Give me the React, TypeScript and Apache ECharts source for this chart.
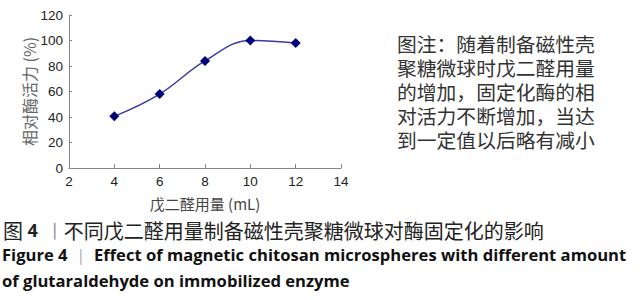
import React, { useEffect, useRef } from "react";
import * as echarts from "echarts";

const xValues = [4, 6, 8, 10, 12];
const activity = [40.5, 58, 84, 100, 98];
const xAxisName = "戊二醛用量 (mL)";
const yAxisName = "相对酶活力 (%)";
const noteLines = [
  "图注：随着制备磁性壳",
  "聚糖微球时戊二醛用量",
  "的增加，固定化酶的相",
  "对活力不断增加，当达",
  "到一定值以后略有减小",
];
const captionCn = "不同戊二醛用量制备磁性壳聚糖微球对酶固定化的影响";
const captionEn1 = "Effect of magnetic chitosan microspheres with different amount";
const captionEn2 = "of glutaraldehyde on immobilized enzyme";

const CJK = '"Noto Sans CJK SC", "Noto Sans", sans-serif';
const EN = '"Open Sans", Lato, sans-serif';

export default function App() {
  const ref = useRef<HTMLDivElement>(null);
  useEffect(() => {
    if (!ref.current) return;
    const chart = echarts.init(ref.current, null, { renderer: "svg" });
    const graphics: any[] = [];
    graphics.push({
      type: "text",
      left: 397,
      top: 31,
      style: {
        text: noteLines.join("\n"),
        font: `19.8px ${CJK}`,
        lineHeight: 24.2,
        fill: "#333",
      },
    });
    graphics.push({
      type: "text",
      left: 3,
      top: 220,
      style: {
        text: `{a|图 }{b|4}{s|  丨}{a|${captionCn}}`,
        rich: {
          a: { font: `20px ${CJK}`, fill: "#222" },
          b: { font: `bold 18px ${EN}`, fill: "#222" },
          s: { font: `18px ${CJK}`, fill: "#999" },
        },
      },
    });
    graphics.push({
      type: "text",
      left: 2,
      top: 246,
      style: {
        text: `{b|Figure 4 }{s| | }{b| ${captionEn1}}`,
        rich: {
          b: { font: `bold 16.6px ${EN}`, fill: "#111" },
          s: { font: `16.6px ${EN}`, fill: "#aaa" },
        },
      },
    });
    graphics.push({
      type: "text",
      left: 2,
      top: 272,
      style: { text: captionEn2, font: `bold 16.6px ${EN}`, fill: "#111" },
    });

    chart.setOption({
      animation: false,
      grid: { left: 69, top: 15, width: 272, height: 153 },
      xAxis: {
        type: "value",
        min: 2,
        max: 14,
        interval: 2,
        name: xAxisName,
        nameLocation: "middle",
        nameGap: 28,
        nameTextStyle: { fontSize: 15, color: "#444", fontFamily: CJK },
        axisLine: { lineStyle: { color: "#868686" } },
        axisTick: { inside: true, length: 4, lineStyle: { color: "#868686" } },
        axisLabel: { fontSize: 13.5, color: "#222", fontFamily: "Liberation Sans", margin: 6 },
        splitLine: { show: false },
      },
      yAxis: {
        type: "value",
        min: 0,
        max: 120,
        interval: 20,
        name: yAxisName,
        nameLocation: "middle",
        nameRotate: 90,
        nameGap: 32,
        nameTextStyle: { fontSize: 16, color: "#666", fontFamily: CJK },
        axisLine: { show: true, lineStyle: { color: "#868686" } },
        axisTick: { show: true, inside: true, length: 3, lineStyle: { color: "#868686" } },
        axisLabel: { fontSize: 13.5, color: "#222", fontFamily: "Liberation Sans", margin: 6 },
        splitLine: { show: false },
      },
      series: [
        {
          type: "line",
          data: xValues.map((x, i) => [x, activity[i]]),
          smooth: 0.4,
          symbol: "diamond",
          symbolSize: 10,
          itemStyle: { color: "#00007a" },
          lineStyle: { color: "#3a3aa8", width: 1.5 },
        },
      ],
      graphic: graphics,
    });
    return () => chart.dispose();
  }, []);
  return (
    <div
      ref={ref}
      style={{ position: "fixed", left: 0, top: 0, width: 640, height: 300, background: "#fff" }}
    />
  );
}
